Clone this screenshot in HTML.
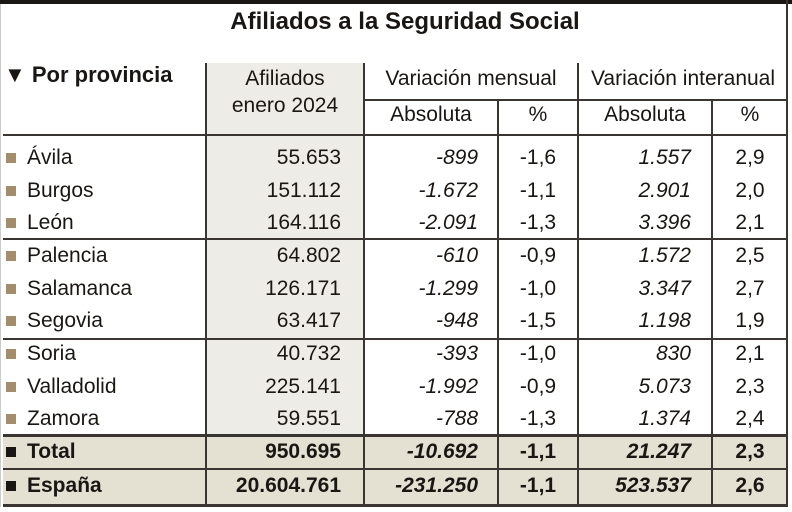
<!DOCTYPE html>
<html><head><meta charset="utf-8"><style>
*{margin:0;padding:0;box-sizing:border-box}
body{width:792px;height:512px;background:#fff;position:relative;overflow:hidden;font-family:"Liberation Sans",sans-serif;color:#1a1614}
div{position:absolute}
.h{height:2px;background:#3a3532}
.v{width:2px;background:#3a3532}
.t{font-size:21px;line-height:24px;white-space:nowrap}
.r{text-align:right}
.c{text-align:center}
.i{font-style:italic}
.b{font-weight:bold}
.sq{width:10px;height:10px;background:#a38d6d}
</style></head><body>
<div style="left:0;top:0;width:792px;height:4px;background:#1a1614"></div>
<div class="t b" style="left:0;width:810px;top:8px;text-align:center;font-size:24px;line-height:28px">Afiliados a la Seguridad Social</div>
<div style="left:206px;top:63px;width:158px;height:373px;background:#eeece6"></div>
<div style="left:3px;top:436px;width:785px;height:70px;background:#e4e1d3"></div>
<div class="v" style="left:786px;top:0;height:507px"></div>
<div class="v" style="left:0;top:4px;height:503px;width:1px;background:#ccc"></div>
<div class="v" style="left:205px;top:63px;height:444px"></div>
<div class="v" style="left:363px;top:63px;height:444px"></div>
<div class="v" style="left:497px;top:100px;height:407px"></div>
<div class="v" style="left:577px;top:63px;height:444px"></div>
<div class="v" style="left:711px;top:100px;height:407px"></div>
<div class="h" style="left:364px;top:99px;width:424px"></div>
<div class="h" style="left:3px;top:134px;width:785px"></div>
<div class="h" style="left:3px;top:238px;width:785px"></div>
<div class="h" style="left:3px;top:338px;width:785px"></div>
<div class="h" style="left:3px;top:434px;width:785px;height:3px"></div>
<div class="h" style="left:3px;top:468px;width:785px"></div>
<div class="h" style="left:3px;top:504px;width:785px;height:3px"></div>
<div class="t b" style="left:4px;top:63px;font-size:22px">▼ Por provincia</div>
<div class="t c" style="left:206px;width:158px;top:67px">Afiliados</div>
<div class="t c" style="left:206px;width:158px;top:94px">enero 2024</div>
<div class="t c" style="left:364px;width:214px;top:67px">Variación mensual</div>
<div class="t c" style="left:578px;width:210px;top:67px">Variación interanual</div>
<div class="t c" style="left:364px;width:134px;top:103px">Absoluta</div>
<div class="t c" style="left:498px;width:80px;top:103px">%</div>
<div class="t c" style="left:578px;width:134px;top:103px">Absoluta</div>
<div class="t c" style="left:712px;width:76px;top:103px">%</div>
<div id="rows"></div>
<script>
var d=[["Ávila","55.653","-899","-1,6","1.557","2,9"],["Burgos","151.112","-1.672","-1,1","2.901","2,0"],["León","164.116","-2.091","-1,3","3.396","2,1"],["Palencia","64.802","-610","-0,9","1.572","2,5"],["Salamanca","126.171","-1.299","-1,0","3.347","2,7"],["Segovia","63.417","-948","-1,5","1.198","1,9"],["Soria","40.732","-393","-1,0","830","2,1"],["Valladolid","225.141","-1.992","-0,9","5.073","2,3"],["Zamora","59.551","-788","-1,3","1.374","2,4"],["Total","950.695","-10.692","-1,1","21.247","2,3"],["España","20.604.761","-231.250","-1,1","523.537","2,6"]];
var ys=[146,178.5,211,244,276.5,309,342,374.5,407,440,474];
var h="";
d.forEach(function(r,i){var y=ys[i],b=i>8?" b":"";
h+='<div class="sq" style="left:6px;top:'+(y+7)+'px;'+(i>8?'background:#1a1614':'')+'"></div>';
h+='<div class="t'+b+'" style="left:27px;top:'+y+'px">'+r[0]+'</div>';
h+='<div class="t r'+b+'" style="left:206px;width:135px;top:'+y+'px">'+r[1]+'</div>';
h+='<div class="t r i'+b+'" style="left:364px;width:114px;top:'+y+'px">'+r[2]+'</div>';
h+='<div class="t c'+b+'" style="left:498px;width:80px;top:'+y+'px">'+r[3]+'</div>';
h+='<div class="t r i'+b+'" style="left:578px;width:113px;top:'+y+'px">'+r[4]+'</div>';
h+='<div class="t c'+b+'" style="left:712px;width:76px;top:'+y+'px">'+r[5]+'</div>';});
document.getElementById("rows").outerHTML=h;
</script>
</body></html>
